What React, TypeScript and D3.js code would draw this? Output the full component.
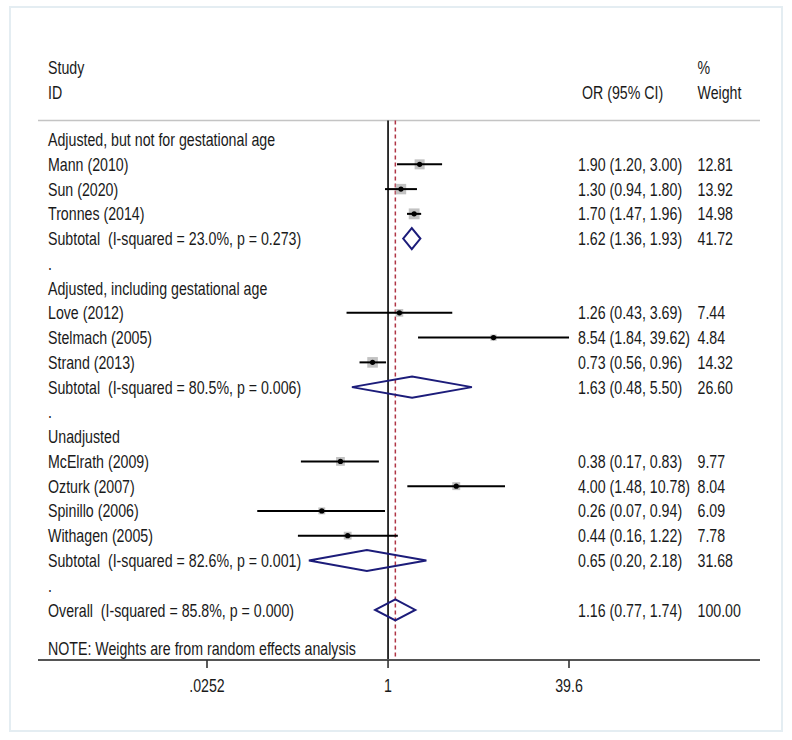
import React from "react";
import * as d3 from "d3";

const labels = [
  "Adjusted, but not for gestational age",
  "Mann (2010)",
  "Sun (2020)",
  "Tronnes (2014)",
  "Subtotal  (I-squared = 23.0%, p = 0.273)",
  ".",
  "Adjusted, including gestational age",
  "Love (2012)",
  "Stelmach (2005)",
  "Strand (2013)",
  "Subtotal  (I-squared = 80.5%, p = 0.006)",
  ".",
  "Unadjusted",
  "McElrath (2009)",
  "Ozturk (2007)",
  "Spinillo (2006)",
  "Withagen (2005)",
  "Subtotal  (I-squared = 82.6%, p = 0.001)",
  ".",
  "Overall  (I-squared = 85.8%, p = 0.000)",
];
const kinds = [
  "head", "study", "study", "study", "pooled", "blank",
  "head", "study", "study", "study", "pooled", "blank",
  "head", "study", "study", "study", "study", "pooled", "blank",
  "pooled",
];
const orValues = [null, 1.9, 1.3, 1.7, 1.62, null, null, 1.26, 8.54, 0.73, 1.63, null, null, 0.38, 4.0, 0.26, 0.44, 0.65, null, 1.16];
const lowerCI = [null, 1.2, 0.94, 1.47, 1.36, null, null, 0.43, 1.84, 0.56, 0.48, null, null, 0.17, 1.48, 0.07, 0.16, 0.2, null, 0.77];
const upperCI = [null, 3.0, 1.8, 1.96, 1.93, null, null, 3.69, 39.62, 0.96, 5.5, null, null, 0.83, 10.78, 0.94, 1.22, 2.18, null, 1.74];
const weights = [null, 12.81, 13.92, 14.98, 41.72, null, null, 7.44, 4.84, 14.32, 26.6, null, null, 9.77, 8.04, 6.09, 7.78, 31.68, null, 100.0];
const tickValues = [0.0252, 1, 39.6];
const tickLabels = [".0252", "1", "39.6"];
const overallOR = 1.16;

const FONT = "'Liberation Sans', Arial, Helvetica, sans-serif";
const FS = 14.2;
const SY = 1.3;

function T({ x, y, children, anchor = "start" }: { x: number; y: number; children: any; anchor?: string }) {
  return (
    <text
      transform={`translate(${x},${y}) scale(1,${SY})`}
      fontFamily={FONT}
      fontSize={FS}
      fill="#1a1a1a"
      textAnchor={anchor as any}
      style={{ whiteSpace: "pre" }}
    >
      {children}
    </text>
  );
}

export default function App() {
  const x = d3.scaleLog().domain([0.0252, 39.6]).range([207, 569]);
  const rowY = d3.scaleLinear().domain([0, 19]).range([139.6, 609.9]);
  const fmt = d3.format(".2f");
  const side = (w: number) => 2.8 * Math.sqrt(w);
  const topY = 120.5;
  const axisY = 660;
  const baseOff = 6.6;

  return (
    <svg
      width={792}
      height={740}
      style={{ position: "absolute", left: 0, top: 0, background: "#fff" }}
    >
      <rect x={0} y={0} width={792} height={740} fill="#fff" />
      <rect x={10} y={7} width={772} height={724} fill="none" stroke="#e4edf2" strokeWidth={2} />

      {/* header */}
      <T x={48} y={67 + baseOff}>Study</T>
      <T x={48} y={92 + baseOff}>ID</T>
      <T x={697.5} y={67 + baseOff}>%</T>
      <T x={582} y={92 + baseOff}>OR (95% CI)</T>
      <T x={697.5} y={92 + baseOff}>Weight</T>
      <line x1={38} x2={760} y1={topY} y2={topY} stroke="#c4c4c4" strokeWidth={1.5} />

      {/* reference lines */}
      <line x1={x(1)} x2={x(1)} y1={topY} y2={axisY} stroke="#000" strokeWidth={1.6} />
      <line
        x1={x(overallOR)}
        x2={x(overallOR)}
        y1={topY}
        y2={axisY}
        stroke="#b03545"
        strokeWidth={1.5}
        strokeDasharray="4 3"
      />

      {labels.map((lab, i) => {
        const y = rowY(i);
        const k = kinds[i];
        const or = orValues[i];
        const lo = lowerCI[i];
        const hi = upperCI[i];
        const w = weights[i];
        return (
          <g key={i}>
            <T x={48} y={y + baseOff}>{lab}</T>
            {or != null && (
              <>
                <T x={578} y={y + baseOff}>{`${fmt(or)} (${fmt(lo as number)}, ${fmt(hi as number)})`}</T>
                <T x={697.5} y={y + baseOff}>{fmt(w as number)}</T>
              </>
            )}
            {k === "study" && or != null && (
              <>
                <rect
                  x={x(or) - side(w as number) / 2}
                  y={y - side(w as number) / 2}
                  width={side(w as number)}
                  height={side(w as number)}
                  fill="#c2c2c2"
                />
                <line x1={x(lo as number)} x2={x(hi as number)} y1={y} y2={y} stroke="#000" strokeWidth={2} />
                <circle cx={x(or)} cy={y} r={2.6} fill="#000" />
              </>
            )}
            {k === "pooled" && or != null && (
              <polygon
                points={[
                  [x(lo as number), y],
                  [x(or), y - 10.5],
                  [x(hi as number), y],
                  [x(or), y + 10.5],
                ]
                  .map((p) => p.join(","))
                  .join(" ")}
                fill="none"
                stroke="#1c1c7a"
                strokeWidth={2}
              />
            )}
          </g>
        );
      })}

      <T x={48} y={648 + baseOff}>NOTE: Weights are from random effects analysis</T>

      {/* axis */}
      <line x1={38} x2={760} y1={axisY} y2={axisY} stroke="#555" strokeWidth={2.2} />
      {tickValues.map((v, i) => (
        <g key={v}>
          <line x1={x(v)} x2={x(v)} y1={axisY} y2={axisY + 8} stroke="#333" strokeWidth={1.6} />
          <T x={x(v)} y={685 + baseOff} anchor="middle">{tickLabels[i]}</T>
        </g>
      ))}
    </svg>
  );
}
